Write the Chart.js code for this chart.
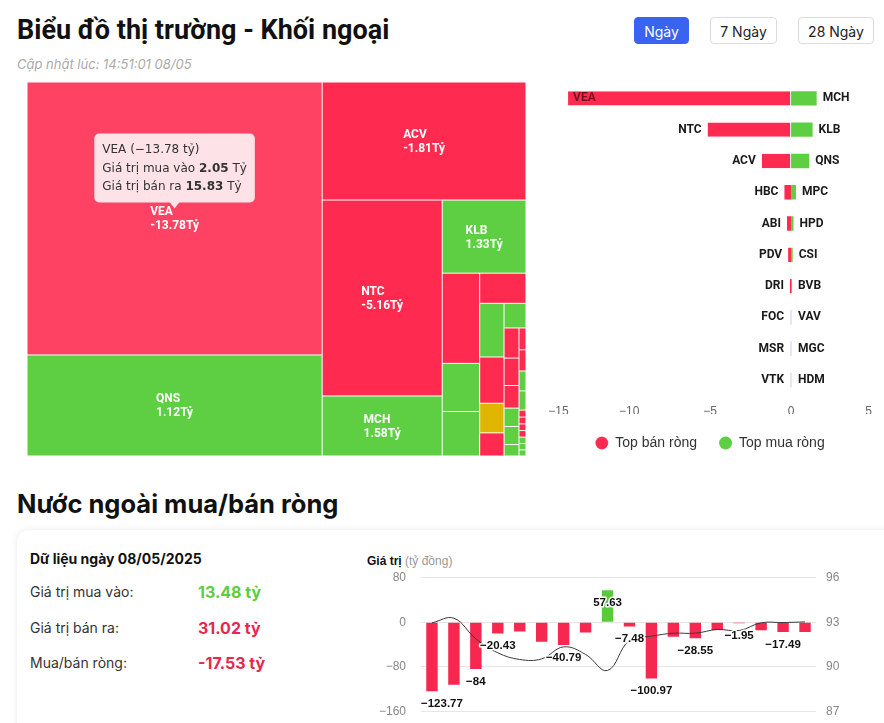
<!DOCTYPE html>
<html lang="vi">
<head>
<meta charset="utf-8">
<title>Khối ngoại</title>
<script src="https://cdn.jsdelivr.net/npm/chart.js@4.4.1/dist/chart.umd.min.js"></script>
<style>
  html, body { margin: 0; padding: 0; background: #fff; }
  body { width: 884px; height: 723px; overflow: hidden; position: relative; font-family: Inter, "Noto Sans", sans-serif; color: #111; }
  .abs { position: absolute; }
  #title { left: 17px; top: 13px; font: 700 27px Roboto, sans-serif; line-height: 34px; white-space: nowrap; }
  #updated { left: 17px; top: 55px; font: italic 13px Inter, sans-serif; color: #aaa; line-height: 18px; }
  .btn { top: 17px; height: 27px; line-height: 27px; font-size: 14px; text-align: center; border-radius: 4px; box-sizing: border-box; border: 1px solid #dcdcdc; color: #222; background: #fff; }
  .btn.on { background: #3a63f0; border-color: #3a63f0; color: #fff; }
  #h2 { left: 17px; top: 487px; font: 700 25.5px Inter, sans-serif; line-height: 34px; white-space: nowrap; }
  #card { left: 17px; top: 530px; width: 900px; height: 260px; border-radius: 12px; background: #fff; box-shadow: 0 0 7px rgba(0,0,0,0.09); }
  .lbl { left: 30px; font-size: 14px; color: #333; line-height: 20px; }
  .val { left: 198px; font-size: 16px; font-weight: 700; line-height: 20px; }
  #axisTitle { left: 367px; top: 553px; font: 12px "Liberation Sans", Arial, sans-serif; line-height: 16px; color: #999; }
  #axisTitle b { color: #111; }
</style>
</head>
<body>
<div id="title" class="abs">Biểu đồ thị trường - Khối ngoại</div>
<div id="updated" class="abs">Cập nhật lúc: 14:51:01 08/05</div>
<div class="abs btn on" style="left:634px;width:55px;">Ngày</div>
<div class="abs btn" style="left:710px;width:67px;">7 Ngày</div>
<div class="abs btn" style="left:798px;width:76px;">28 Ngày</div>

<canvas id="treemap" class="abs" style="left:27px;top:82px;" width="499" height="374"></canvas>
<canvas id="topChart" class="abs" style="left:540px;top:78px;" width="344" height="382"></canvas>

<div id="h2" class="abs">Nước ngoài mua/bán ròng</div>
<div id="card" class="abs"></div>
<div class="abs" style="left:30px;top:549px;font-size:14px;font-weight:700;line-height:20px;">Dữ liệu ngày 08/05/2025</div>
<div class="abs lbl" style="top:582px;">Giá trị mua vào:</div>
<div class="abs val" style="top:582px;color:#5ccd40;">13.48 tỷ</div>
<div class="abs lbl" style="top:618px;">Giá trị bán ra:</div>
<div class="abs val" style="top:618px;color:#e8264e;">31.02 tỷ</div>
<div class="abs lbl" style="top:653px;">Mua/bán ròng:</div>
<div class="abs val" style="top:653px;color:#e8264e;">-17.53 tỷ</div>
<div id="axisTitle" class="abs"><b>Giá trị</b> (tỷ đồng)</div>
<canvas id="flowChart" class="abs" style="left:360px;top:570px;" width="524" height="150"></canvas>

<script>
// --- treemap: giá trị giao dịch (mua + bán) và ròng theo mã, tỷ đồng
const tmTickers = ['VEA', 'QNS', 'ACV', 'NTC', 'MCH', 'KLB', 'HBC', 'MPC', 'HPD', 'ABI', 'CSI', 'PDV', '', 'DRI', 'BVB',
  'FOC', 'MSR', 'VTK', 'VAV', 'MGC', 'HDM', '', '', '', '', '', '', '', '', '', '', ''];
const tmTotal = [17.88, 6.62, 5.34, 5.22, 1.60, 1.36, 0.75, 0.40, 0.37, 0.31, 0.29, 0.25, 0.16, 0.125, 0.12,
  0.10, 0.091, 0.075, 0.061, 0.060, 0.038, 0.034, 0.033, 0.031, 0.030, 0.0108, 0.0106, 0.0104, 0.0102, 0.0100, 0.0098, 0.0096];
const tmNet = [-13.78, 1.12, -1.81, -5.16, 1.58, 1.33, -0.41, 0.30, 0.15, -0.25, 0.10, -0.18, 0, -0.07, 0.05,
  -0.004, -0.004, -0.004, 0.004, 0.004, 0.004, -0.002, -0.002, 0.002, 0.002, -0.001, -0.001, -0.001, -0.001, 0.001, 0.001, 0.001];
const hoverIndex = 0;
const hoverBuy = 2.05;
const hoverSell = 15.83;

// --- top bán ròng / top mua ròng
const sellNames = ['VEA', 'NTC', 'ACV', 'HBC', 'ABI', 'PDV', 'DRI', 'FOC', 'MSR', 'VTK'];
const sellValues = [-13.78, -5.16, -1.81, -0.41, -0.25, -0.18, -0.07, -0.004, -0.004, -0.004];
const buyNames = ['MCH', 'KLB', 'QNS', 'MPC', 'HPD', 'CSI', 'BVB', 'VAV', 'MGC', 'HDM'];
const buyValues = [1.58, 1.33, 1.12, 0.30, 0.15, 0.10, 0.05, 0.004, 0.004, 0.004];

// --- mua/bán ròng theo phiên và chỉ số
const sessions = ['10/04', '11/04', '14/04', '15/04', '16/04', '17/04', '18/04', '21/04', '22/04',
  '23/04', '24/04', '25/04', '28/04', '29/04', '05/05', '06/05', '07/05', '08/05'];
const netValues = [-123.77, -112.46, -84, -20.43, -16.82, -34.87, -40.79, -18.64, 57.63,
  -7.48, -100.97, -25.93, -28.55, -13.81, -1.95, -14.42, -17.49, -17.53];
const indexValues = [92.96, 93.27, 91.88, 90.94, 90.49, 90.53, 91.34, 90.83, 89.75,
  91.79, 92.06, 92.26, 92.26, 92.51, 92.44, 92.96, 92.98, 93.02];
const labelShown = [1, 0, 1, 1, 0, 0, 1, 0, 1, 1, 1, 0, 1, 0, 1, 0, 1, 0];

const RED = '#fe2a4f';
const RED_HOVER = '#fe4264';
const GREEN = '#5ecf42';
const ZERO = '#e0b500';

Chart.defaults.font.family = '"Liberation Sans", Arial, sans-serif';
Chart.defaults.animation = false;

const minus = v => (v < 0 ? '\u2212' + Math.abs(v) : String(v));

// dải xen kẽ cột / hàng, số ô mỗi dải; phần còn lại xếp thành một cột
const stripSizes = [2, 1, 2, 1, 3, 1, 4, 1, 6];

function layoutCells(values, w, h) {
  const order = values.map((v, i) => i).sort((a, b) => values[b] - values[a]);
  const k = w * h / values.reduce((a, b) => a + b, 0);
  let x = 0, y = 0, rw = w, rh = h, pos = 0, s = 0;
  const rects = [];
  while (pos < order.length) {
    const n = s < stripSizes.length ? stripSizes[s] : order.length - pos;
    const column = s >= stripSizes.length || s % 2 === 0;
    const group = order.slice(pos, pos + n);
    const area = group.reduce((a, i) => a + values[i] * k, 0);
    if (column) {
      const cw = area / rh;
      let cy = y;
      group.forEach(i => { const ch = values[i] * k / cw; rects[i] = { x, y: cy, w: cw, h: ch }; cy += ch; });
      x += cw; rw -= cw;
    } else {
      const ch = area / rw;
      let cx = x;
      group.forEach(i => { const cw = values[i] * k / ch; rects[i] = { x: cx, y, w: cw, h: ch }; cx += cw; });
      y += ch; rh -= ch;
    }
    pos += n; s++;
  }
  return rects;
}

const treemapCells = {
  id: 'treemapCells',
  afterDatasetsDraw(chart) {
    const { ctx, chartArea, scales } = chart;
    const W = chartArea.width, H = chartArea.height;
    const rects = layoutCells(tmTotal, W, H);
    const px = v => scales.x.getPixelForValue(v / W);
    const py = v => scales.y.getPixelForValue(v / H);
    ctx.save();
    rects.forEach((r, i) => {
      const x0 = px(r.x), x1 = px(r.x + r.w), y0 = py(r.y), y1 = py(r.y + r.h);
      const net = tmNet[i];
      ctx.fillStyle = net === 0 ? ZERO : net < 0 ? (i === hoverIndex ? RED_HOVER : RED) : GREEN;
      ctx.fillRect(x0 + 0.5, y0 + 0.5, x1 - x0 - 1, y1 - y0 - 1);
    });
    ctx.font = 'bold 12px Roboto, sans-serif';
    ctx.fillStyle = '#fff';
    ctx.textBaseline = 'middle';
    ctx.textAlign = 'left';
    rects.forEach((r, i) => {
      if (r.w < 60 || r.h < 40) return;
      const cx = px(r.x + r.w / 2), cy = py(r.y + r.h / 2);
      const l1 = tmTickers[i], l2 = tmNet[i].toFixed(2) + 'Tỷ';
      const bw = Math.max(ctx.measureText(l1).width, ctx.measureText(l2).width);
      ctx.fillText(l1, cx - bw / 2, cy - 6);
      ctx.fillText(l2, cx - bw / 2, cy + 8);
    });

    // tooltip của ô đang trỏ
    const r = rects[hoverIndex];
    const cx = px(r.x + r.w / 2), cy = py(r.y + r.h / 2);
    const lines = [
      [[tmTickers[hoverIndex] + ' (' + minus(tmNet[hoverIndex]) + ' tỷ)', false]],
      [['Giá trị mua vào ', false], [hoverBuy.toFixed(2), true], [' Tỷ', false]],
      [['Giá trị bán ra ', false], [hoverSell.toFixed(2), true], [' Tỷ', false]]
    ];
    const fontN = '12px "DejaVu Sans", sans-serif', fontB = 'bold 12px "DejaVu Sans", sans-serif';
    const widthOf = line => line.reduce((a, [t, b]) => { ctx.font = b ? fontB : fontN; return a + ctx.measureText(t).width; }, 0);
    const tw = Math.max(...lines.map(widthOf));
    const bw = tw + 16, bh = 69;
    const tipY = cy - 10, bx = cx - bw / 2, by = tipY - 6 - bh;
    ctx.fillStyle = '#fde2e7';
    ctx.beginPath();
    ctx.roundRect(bx, by, bw, bh, 5);
    ctx.fill();
    ctx.beginPath();
    ctx.moveTo(cx - 5, by + bh - 0.5); ctx.lineTo(cx, tipY); ctx.lineTo(cx + 5, by + bh - 0.5);
    ctx.fill();
    ctx.fillStyle = '#333';
    lines.forEach((line, li) => {
      let tx = bx + 8;
      line.forEach(([t, b]) => { ctx.font = b ? fontB : fontN; ctx.fillText(t, tx, by + 16.5 + li * 18.5); tx += ctx.measureText(t).width; });
    });
    ctx.restore();
  }
};

new Chart(document.getElementById('treemap'), {
  type: 'scatter',
  data: { datasets: [{ data: [] }] },
  options: {
    responsive: false,
    layout: { padding: 0 },
    scales: {
      x: { type: 'linear', min: 0, max: 1, display: false },
      y: { type: 'linear', min: 0, max: 1, reverse: true, display: false }
    },
    plugins: { legend: { display: false }, tooltip: { enabled: false } }
  },
  plugins: [treemapCells]
});

const sideLabels = {
  id: 'sideLabels',
  afterDatasetsDraw(chart) {
    const { ctx, chartArea } = chart;
    ctx.save();
    ctx.font = 'bold 12px Roboto, sans-serif';
    ctx.textBaseline = 'middle';
    chart.getDatasetMeta(0).data.forEach((bar, i) => {
      const left = Math.min(bar.x, bar.base);
      const w = ctx.measureText(sellNames[i]).width;
      if (left - 6 - w < chartArea.left) {
        ctx.fillStyle = '#7a1024';
        ctx.textAlign = 'left';
        ctx.fillText(sellNames[i], left + 5, bar.y);
      } else {
        ctx.fillStyle = '#1a1a1a';
        ctx.textAlign = 'right';
        ctx.fillText(sellNames[i], left - 6, bar.y);
      }
    });
    chart.getDatasetMeta(1).data.forEach((bar, i) => {
      ctx.fillStyle = '#1a1a1a';
      ctx.textAlign = 'left';
      ctx.fillText(buyNames[i], Math.max(bar.x, bar.base) + 6, bar.y);
    });
    ctx.restore();
  }
};

const nearZero = v => Math.abs(v) < 0.01;

new Chart(document.getElementById('topChart'), {
  type: 'bar',
  data: {
    labels: sellNames,
    datasets: [
      {
        label: 'Top bán ròng', data: sellValues,
        backgroundColor: c => nearZero(c.raw) ? '#e1e5ee' : RED,
        borderColor: '#fff', borderSkipped: false,
        borderWidth: c => ({ top: 0, bottom: 0, left: 0, right: Math.abs(c.raw) > 0.5 ? 1 : 0 })
      },
      {
        label: 'Top mua ròng', data: buyValues,
        backgroundColor: c => nearZero(c.raw) ? '#e1e5ee' : GREEN
      }
    ]
  },
  options: {
    indexAxis: 'y',
    responsive: false,
    barPercentage: 0.46,
    categoryPercentage: 1,
    minBarLength: 1,
    layout: { padding: { left: 8, right: 12, top: 4.7, bottom: 0 } },
    scales: {
      x: {
        stacked: true, min: -15, max: 5,
        ticks: { stepSize: 5, align: 'inner', padding: 8.3, color: '#666', font: { size: 12 }, callback: v => minus(v) },
        grid: { display: false, drawTicks: false },
        border: { display: false },
        afterFit: s => { s.height = 18.3; }
      },
      y: { stacked: true, display: false }
    },
    plugins: {
      legend: {
        position: 'bottom',
        labels: { usePointStyle: true, pointStyle: 'circle', boxWidth: 13, boxHeight: 9.2, padding: 22, color: '#333', font: { size: 14 } }
      },
      tooltip: { enabled: false }
    }
  },
  plugins: [sideLabels]
});

const valueLabels = {
  id: 'valueLabels',
  afterDatasetsDraw(chart) {
    const { ctx, chartArea } = chart;
    ctx.save();
    ctx.font = 'bold 11.5px "Liberation Sans", Arial, sans-serif';
    ctx.textAlign = 'center';
    ctx.textBaseline = 'middle';
    ctx.lineJoin = 'round';
    ctx.lineWidth = 3;
    ctx.strokeStyle = '#fff';
    chart.getDatasetMeta(1).data.forEach((bar, i) => {
      if (!labelShown[i]) return;
      const txt = minus(netValues[i]);
      const w = ctx.measureText(txt).width;
      const x = Math.max(bar.x, chartArea.left + w / 2);
      const y = bar.y + 12.5;
      ctx.strokeText(txt, x, y);
      ctx.fillStyle = '#111';
      ctx.fillText(txt, x, y);
    });
    ctx.restore();
  }
};

// chiều rộng trục và khoảng đệm nhãn, không để phần đệm nhãn đẩy vùng vẽ
const fixAxis = width => s => { s.width = width; s.paddingTop = 7; s.paddingBottom = 7; };

new Chart(document.getElementById('flowChart'), {
  type: 'bar',
  data: {
    labels: sessions,
    datasets: [
      { type: 'line', label: 'Chỉ số', data: indexValues, yAxisID: 'y1', borderColor: '#3a3a3a', borderWidth: 1, pointRadius: 0, tension: 0.4, fill: false },
      { type: 'bar', label: 'Mua/bán ròng', data: netValues, yAxisID: 'y', backgroundColor: c => c.raw >= 0 ? '#58cb3d' : '#f6284f', barPercentage: 0.65, categoryPercentage: 0.8 }
    ]
  },
  options: {
    responsive: false,
    layout: { padding: { top: 7.7, bottom: 8.7 } },
    scales: {
      x: { display: false },
      y: {
        position: 'left', min: -160, max: 80,
        ticks: { stepSize: 80, padding: 15, color: '#888', font: { size: 12 }, callback: v => minus(v) },
        grid: { color: '#e6e6e6', drawTicks: false },
        border: { display: false },
        afterFit: fixAxis(61)
      },
      y1: {
        position: 'right', min: 87, max: 96,
        ticks: { stepSize: 3, padding: 10, color: '#888', font: { size: 12 } },
        grid: { display: false, drawTicks: false },
        border: { display: false },
        afterFit: fixAxis(68)
      }
    },
    plugins: { legend: { display: false }, tooltip: { enabled: false } }
  },
  plugins: [valueLabels]
});
</script>
</body>
</html>
